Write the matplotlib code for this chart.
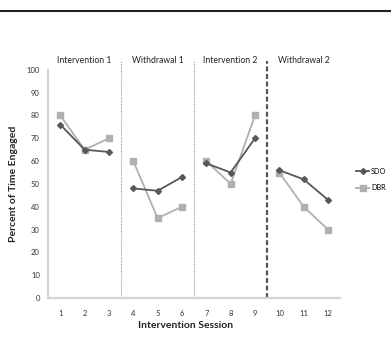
import numpy as np
import matplotlib
matplotlib.use('Agg')
import matplotlib.pyplot as plt

#==================== data ====================#
sessions = [1, 2, 3, 4, 5, 6, 7, 8, 9, 10, 11, 12]
sdo = [76, 65, 64, 48, 47, 53, 59, 55, 70, 56, 52, 43]
dbr = [80, 65, 70, 60, 35, 40, 60, 50, 80, 55, 40, 30]
phases = ['Intervention 1', 'Withdrawal 1', 'Intervention 2', 'Withdrawal 2']
phase_bounds = [(1, 3), (4, 6), (7, 9), (10, 12)]
yticks = [0, 10, 20, 30, 40, 50, 60, 70, 80, 90, 100]

plt.rcParams['font.family'] = ['Lato', 'DejaVu Sans']

fig = plt.figure(figsize=(3.91, 3.39), dpi=100)
ax = fig.add_axes([0.123, 0.121, 0.747, 0.673])

x = np.array(sessions)
s = np.array(sdo)
d = np.array(dbr)

#==================== lines per phase ====================#
for i, (a, b) in enumerate(phase_bounds):
    m = (x >= a) & (x <= b)
    ax.plot(x[m], d[m], color='#b0b0b0', lw=1.3, marker='s', ms=5,
            mec='#b0b0b0', mfc='#b0b0b0', label='DBR' if i == 0 else None, zorder=2)
    ax.plot(x[m], s[m], color='#585858', lw=1.3, marker='D', ms=3,
            mec='#585858', mfc='#585858', label='SDO' if i == 0 else None, zorder=3)

#==================== phase lines ====================#
ax.axvline(3.5, ymin=0, ymax=1.04, color='#9a9a9a', lw=0.8, ls=(0, (1, 1)), clip_on=False)
ax.axvline(6.5, ymin=0, ymax=1.04, color='#9a9a9a', lw=0.8, ls=(0, (1, 1)), clip_on=False)
ax.axvline(9.5, ymin=0, ymax=1.04, color='#555555', lw=1.6, ls=(0, (2.2, 1.2)), clip_on=False)

for name, (a, b) in zip(phases, phase_bounds):
    ax.text((a + b) / 2, 102, name, ha='center', va='bottom', fontsize=6.2, color='#222222')

#==================== axes ====================#
ax.set_xlim(0.5, 12.5)
ax.set_ylim(0, 100)
ax.set_xticks(sessions)
ax.set_yticks(yticks)
ax.tick_params(length=0, labelsize=5.5, colors='#333333', pad=6)
ax.tick_params(axis='x', pad=9)
for sp in ['top', 'right']:
    ax.spines[sp].set_visible(False)
for sp in ['left', 'bottom']:
    ax.spines[sp].set_color('#d4d4d4')
    ax.spines[sp].set_linewidth(1.6)

ax.set_xlabel('Intervention Session', fontsize=7.5, fontweight='bold', color='#222222', labelpad=4)
ax.xaxis.set_label_coords(0.47, -0.1)
ax.set_ylabel('Percent of Time Engaged', fontsize=7.5, fontweight='bold', color='#222222', labelpad=6)

h, l = ax.get_legend_handles_labels()
fig.legend([h[1], h[0]], [l[1], l[0]], loc='center left', bbox_to_anchor=(0.895, 0.47),
           frameon=False, fontsize=5.2, handlelength=1.8, labelspacing=1.3, handletextpad=0.2)

#==================== header rule ====================#
fig.add_artist(plt.Line2D([0, 1], [0.969, 0.969], transform=fig.transFigure, color='#222222', lw=1.5))

plt.savefig('out.png', dpi=100)
plt.close()
